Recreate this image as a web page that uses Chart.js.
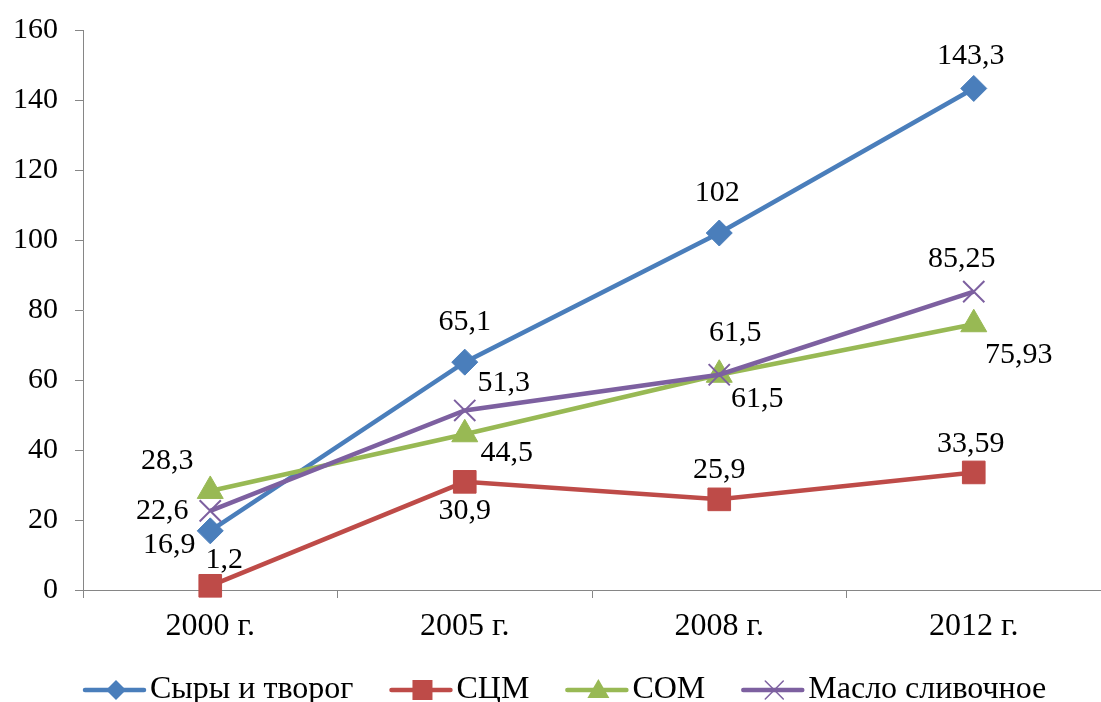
<!DOCTYPE html>
<html>
<head>
<meta charset="utf-8">
<script src="https://cdn.jsdelivr.net/npm/chart.js@4/dist/chart.umd.min.js"></script>
<style>
  html, body { margin: 0; padding: 0; background: #fff; overflow: hidden; }
  #wrap { width: 1101px; height: 702px; position: relative; }
  canvas { display: block; }
</style>
</head>
<body>
<div id="wrap"><canvas id="lineChart"></canvas></div>
<script>
// data
const years = ['2000 г.', '2005 г.', '2008 г.', '2012 г.'];
const cheese = [16.9, 65.1, 102, 143.3];
const sczm = [1.2, 30.9, 25.9, 33.59];
const som = [28.3, 44.5, 61.5, 75.93];
const butter = [22.6, 51.3, 61.5, 85.25];
const seriesNames = ['Сыры и творог', 'СЦМ', 'СОМ', 'Масло сливочное'];
const yTicks = [0, 20, 40, 60, 80, 100, 120, 140, 160];

const FONT = '"Liberation Serif", "Times New Roman", serif';
const colors = ['#4A7EBB', '#BE4B48', '#98B954', '#7D60A0'];

// label offsets (px) from each point, per series
const labelOffsets = [
  [[-41, 14], [0, -40], [-2, -40], [-3, -32]],
  [[14, -26], [0, 29], [0, -29], [-3, -28]],
  [[-43, -30], [42, 19], [38, 24], [45, 31]],
  [[-48, 0], [39, -27], [16, -42], [-12, -33]]
];

function fmt(v) { return String(v).replace('.', ','); }

function drawMarker(ctx, style, x, y, color) {
  ctx.save();
  ctx.fillStyle = color;
  ctx.strokeStyle = color;
  ctx.beginPath();
  if (style === 'diamond') {
    ctx.moveTo(x, y - 10); ctx.lineTo(x + 10, y); ctx.lineTo(x, y + 10); ctx.lineTo(x - 10, y);
    ctx.closePath(); ctx.fill();
  } else if (style === 'square') {
    ctx.fillRect(x - 10, y - 10, 20, 20);
  } else if (style === 'triangle') {
    ctx.moveTo(x, y - 11); ctx.lineTo(x + 11, y + 8); ctx.lineTo(x - 11, y + 8);
    ctx.closePath(); ctx.fill();
  } else {
    ctx.lineWidth = 1.5;
    ctx.moveTo(x - 9, y - 9); ctx.lineTo(x + 9, y + 9);
    ctx.moveTo(x + 9, y - 9); ctx.lineTo(x - 9, y + 9);
    ctx.stroke();
  }
  ctx.restore();
}

const markerNames = ['diamond', 'square', 'triangle', 'cross'];

// legend drawn by hand: line + marker + text, like the office chart
const bottomLegend = {
  id: 'bottomLegend',
  afterDraw(chart) {
    const ctx = chart.ctx;
    const y = 690;
    let x = 83;
    ctx.save();
    ctx.font = '32px ' + FONT;
    ctx.textBaseline = 'middle';
    ctx.textAlign = 'left';
    chart.data.datasets.forEach((ds, i) => {
      ctx.strokeStyle = colors[i];
      ctx.lineWidth = 4.5;
      ctx.lineCap = 'round';
      ctx.beginPath(); ctx.moveTo(x + 2, y); ctx.lineTo(x + 61, y); ctx.stroke();
      drawMarker(ctx, markerNames[i], x + 33, y, colors[i]);
      ctx.fillStyle = '#000';
      ctx.fillText(ds.label, x + 67, y);
      x += 67 + ctx.measureText(ds.label).width + 36;
    });
    ctx.restore();
  }
};

const valueLabels = {
  id: 'valueLabels',
  afterDatasetsDraw(chart) {
    const ctx = chart.ctx;
    ctx.save();
    ctx.font = '30px ' + FONT;
    ctx.fillStyle = '#000';
    ctx.textAlign = 'center';
    ctx.textBaseline = 'middle';
    chart.data.datasets.forEach((ds, di) => {
      const meta = chart.getDatasetMeta(di);
      meta.data.forEach((pt, i) => {
        const off = labelOffsets[di][i];
        ctx.fillText(fmt(ds.data[i]), pt.x + off[0], pt.y + off[1]);
      });
    });
    ctx.restore();
  }
};

const allSeries = [cheese, sczm, som, butter];
const pointStyles = ['rectRot', 'rect', 'triangle', 'crossRot'];
const pointRadii = [13, 16, 15, 15];

const datasets = allSeries.map((d, i) => ({
  label: seriesNames[i],
  data: d,
  borderColor: colors[i],
  backgroundColor: colors[i],
  borderWidth: 4.5,
  pointStyle: pointStyles[i],
  pointRadius: pointRadii[i],
  pointHoverRadius: pointRadii[i],
  pointBorderWidth: i === 3 ? 2 : 1,
  pointBorderColor: colors[i],
  pointBackgroundColor: colors[i],
  tension: 0,
  clip: false,
  order: 4 - i
}));

new Chart(document.getElementById('lineChart'), {
  type: 'line',
  data: { labels: years, datasets: datasets },
  options: {
    responsive: true,
    maintainAspectRatio: false,
    animation: false,
    layout: { autoPadding: false, padding: { top: 30, right: 0, left: 0, bottom: 52 } },
    plugins: {
      tooltip: { enabled: false },
      legend: { display: false }
    },
    scales: {
      x: {
        offset: true,
        grid: { drawOnChartArea: false, drawTicks: true, tickLength: 8, color: '#868686', offset: true },
        border: { color: '#868686', width: 1 },
        ticks: { font: { family: FONT, size: 32 }, color: '#000', padding: 9, maxRotation: 0 },
        afterFit(scale) {
          scale.height = 60;
          scale.paddingLeft = 0;
          scale.paddingRight = 0;
        }
      },
      y: {
        min: 0,
        max: 160,
        afterBuildTicks(scale) { scale.ticks = yTicks.map(v => ({ value: v })); },
        grid: { drawOnChartArea: false, drawTicks: true, tickLength: 8, color: '#868686' },
        border: { color: '#868686', width: 1 },
        ticks: { font: { family: FONT, size: 30 }, color: '#000', padding: 17 },
        afterFit(scale) {
          scale.width = 83;
          scale.paddingTop = 0;
          scale.paddingBottom = 0;
        }
      }
    }
  },
  plugins: [valueLabels, bottomLegend]
});
</script>
</body>
</html>
